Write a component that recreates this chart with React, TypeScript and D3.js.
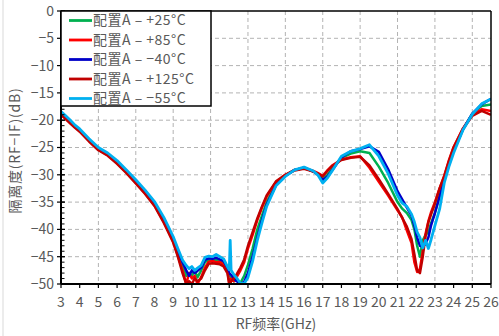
import React from "react";
import * as d3 from "d3";

const freq = [3, 3.25, 3.5, 3.75, 4, 4.5, 5, 5.5, 6, 6.5, 7, 7.5, 8, 8.5, 9, 9.25, 9.5, 9.7, 9.85, 10, 10.15, 10.3, 10.5, 10.7, 10.9, 11.1, 11.3, 11.5, 11.7, 11.9, 12.0, 12.05, 12.1, 12.25, 12.4, 12.6, 12.8, 13, 13.25, 13.5, 13.75, 14, 14.5, 15, 15.5, 16, 16.5, 16.75, 17, 17.25, 17.5, 18, 18.5, 19, 19.5, 20, 20.5, 21, 21.25, 21.5, 21.75, 21.9, 22.05, 22.2, 22.35, 22.5, 22.65, 22.8, 23, 23.25, 23.5, 23.75, 24, 24.5, 25, 25.5, 26];

const p25 = [-18.7, -19.5, -20.3, -21.1, -21.9, -23.6, -25.2, -26.3, -27.7, -29.4, -31.2, -33.1, -35.3, -38.3, -41.9, -44.3,
  -46.5, -48.5, -48.0, -48.5, -47.5, -48.8, -47.5, -46.0, -45.6, -45.7, -45.5, -45.8, -46.1, -47.2, -48.5, -48.6, -48.8, -49.5, -49.2, -49.8, -48.5,
  -46.5, -43.5, -40.0, -37.5, -35.0, -31.7, -30.1, -29.1, -28.7, -29.4, -29.9, -30.8, -30.0, -28.9,
  -26.9, -26.1, -25.7, -26.0, -28.5, -31.5, -35.0, -36.2, -37.0, -38.3, -40.0, -43.0, -45.0, -42.0, -41.0, -40.5, -38.8, -37.0, -33.8, -31.0, -28.0, -25.6, -21.7, -18.8, -17.4, -17.1];

const p85 = [-18.9, -19.7, -20.5, -21.3, -22.0, -23.8, -25.4, -26.4, -27.9, -29.6, -31.5, -33.4, -35.6, -38.6, -42.2, -44.8,
  -47.5, -50.0, -48.0, -49.0, -48.5, -50.0, -48.7, -47.0, -45.9, -45.8, -46.0, -45.9, -46.5, -47.4, -50.0, -49.2, -49.0, -49.5, -48.7, -47.5, -46.0,
  -43.5, -41.0, -38.3, -36.0, -34.0, -31.3, -30.0, -29.1, -28.8, -29.3, -29.7, -30.2, -29.2, -28.3,
  -27.2, -26.8, -26.6, -28.7, -31.3, -33.8, -36.5, -37.8, -40.2, -42.5, -46.0, -47.8, -47.2, -44.0, -40.8, -38.5, -36.8, -35.0, -32.5, -30.2, -27.3, -24.9, -21.5, -19.0, -18.0, -18.3];

const m40 = [-18.6, -19.4, -20.2, -21.0, -21.8, -23.6, -25.2, -26.2, -27.6, -29.3, -31.1, -33.0, -35.1, -38.1, -41.7, -44.0,
  -46.0, -47.5, -48.5, -47.5, -48.0, -47.6, -47.0, -45.6, -45.3, -45.4, -45.2, -45.5, -45.8, -47.0, -48.0, -48.2, -48.3, -49.0, -49.5, -50.0, -49.6,
  -48.0, -45.0, -41.5, -38.3, -35.5, -31.9, -30.2, -29.1, -28.7, -29.4, -30.0, -31.0, -30.3, -29.2,
  -26.8, -25.7, -25.3, -24.8, -25.8, -29.0, -33.0, -34.5, -36.0, -37.5, -39.3, -41.5, -43.0, -43.2, -42.6, -41.5, -39.2, -37.0, -34.0, -31.0, -28.2, -25.6, -21.7, -18.8, -17.1, -16.1];

const p125 = [-19.0, -19.8, -20.6, -21.4, -22.1, -23.9, -25.5, -26.5, -28.0, -29.7, -31.6, -33.5, -35.7, -38.8, -42.4, -45.0,
  -48.0, -50.0, -49.5, -50.0, -49.0, -49.5, -49.0, -47.5, -46.3, -46.2, -46.3, -46.4, -46.8, -48.0, -50.0, -50.0, -49.5, -49.0, -48.2, -47.0, -45.5,
  -43.0, -40.5, -38.0, -35.8, -33.8, -31.2, -30.0, -29.2, -28.9, -29.4, -29.8, -30.3, -29.3, -28.4,
  -27.3, -26.9, -26.7, -28.3, -30.8, -33.5, -36.3, -37.9, -39.5, -41.8, -44.5, -47.5, -48.0, -45.0, -41.2, -38.7, -37.2, -35.3, -32.5, -30.2, -27.5, -25.0, -21.6, -19.2, -18.3, -19.0];

const m55 = [-18.4, -19.2, -20.0, -20.9, -21.6, -23.4, -25.0, -26.0, -27.4, -29.1, -30.9, -32.8, -34.9, -37.8, -41.3, -43.5,
  -45.6, -46.6, -47.2, -46.8, -47.5, -47.1, -46.6, -45.1, -44.9, -45.0, -44.6, -45.0, -45.4, -46.8, -47.4, -42.0, -47.5, -48.3, -48.9, -49.9, -49.9,
  -48.8, -45.8, -42.0, -38.8, -35.8, -32.0, -30.3, -29.1, -28.6, -29.3, -30.1, -31.5, -30.6, -29.3,
  -26.6, -25.7, -25.2, -24.5, -26.6, -29.8, -33.8, -35.2, -35.8, -37.2, -38.6, -40.5, -41.5, -43.4, -42.0, -43.5, -41.8, -39.3, -36.3, -31.5, -28.5, -26.0, -21.8, -18.9, -17.0, -16.1];

const seriesNames = ["配置A – +25°C", "配置A – +85°C", "配置A – −40°C", "配置A – +125°C", "配置A – −55°C"];
const seriesValues = [p25, p85, m40, p125, m55];
const seriesColors = ["#00b050", "#ff0000", "#0000c8", "#c00000", "#00b0f0"];

const xTicks = d3.range(3, 27, 1);
const xGrid = [5, 7, 9, 11, 13, 15, 17, 19, 21, 23, 25];
const yTicks = [0, -5, -10, -15, -20, -25, -30, -35, -40, -45, -50];
const yMinor = d3.range(-50, 1, 1);

const W = 499, H = 336;
const L = 61, R = 491, T = 11, B = 284;
const FONT = "'Noto Sans CJK SC', 'Noto Sans', sans-serif";
const GRAY = "#595959";

export default function App() {
  const x = d3.scaleLinear().domain([3, 26]).range([L, R]);
  const y = d3.scaleLinear().domain([-50, 0]).range([B, T]);
  const line = d3.line<number>().x((_, i) => x(freq[i])).y((d) => y(d));

  return (
    <svg width={W} height={H} style={{ position: "absolute", left: 0, top: 0, background: "#fff" }} fontFamily={FONT}>
      <defs>
        <clipPath id="plot">
          <rect x={L} y={T - 2} width={R - L} height={B - T + 2} />
        </clipPath>
      </defs>
      <line x1={3} x2={3} y1={0} y2={H} stroke="#d9d9d9" strokeWidth={1} />
      {/* grid */}
      {xGrid.map((v) => (
        <line key={"gx" + v} x1={x(v)} x2={x(v)} y1={T} y2={B} stroke="#b3b3b3" strokeWidth={1} strokeDasharray="4,3" />
      ))}
      {yTicks.filter((v) => v !== 0 && v !== -50).map((v) => (
        <line key={"gy" + v} x1={L} x2={R} y1={y(v)} y2={y(v)} stroke="#b3b3b3" strokeWidth={1} strokeDasharray="4,3" />
      ))}
      {/* series */}
      <g clipPath="url(#plot)">
        {seriesValues.map((vals, i) => (
          <path key={i} d={line(vals) || ""} fill="none" stroke={seriesColors[i]} strokeWidth={i === 4 ? 2.8 : 2.5} strokeLinejoin="round" />
        ))}
      </g>
      {/* frame */}
      <line x1={L} x2={R} y1={T} y2={T} stroke="#000" strokeWidth={1.5} />
      <line x1={R} x2={R} y1={T} y2={B} stroke="#000" strokeWidth={1.5} />
      <line x1={L} x2={L} y1={T} y2={B} stroke="#000" strokeWidth={2} />
      <line x1={L} x2={R} y1={B} y2={B} stroke="#000" strokeWidth={2} />
      {/* y ticks */}
      {yMinor.map((v) => (
        <line key={"ym" + v} x1={L} x2={L + 3.5} y1={y(v)} y2={y(v)} stroke="#000" strokeWidth={1} />
      ))}
      {yTicks.map((v) => (
        <g key={"yt" + v}>
          <line x1={L - 4} x2={L + 4} y1={y(v)} y2={y(v)} stroke="#000" strokeWidth={1.2} />
          <text x={L - 7} y={y(v)} dy="0.35em" textAnchor="end" fontSize={14} fill={GRAY}>
            {v < 0 ? "−" + Math.abs(v) : String(v)}
          </text>
        </g>
      ))}
      {/* x ticks */}
      {xTicks.map((v) => (
        <g key={"xt" + v}>
          <line x1={x(v)} x2={x(v)} y1={B} y2={B + 4} stroke="#000" strokeWidth={1.2} />
          <text x={x(v)} y={306.5} textAnchor="middle" fontSize={14} fill={GRAY}>{v}</text>
        </g>
      ))}
      {/* axis titles */}
      <text x={(L + R) / 2} y={329} textAnchor="middle" fontSize={14} fill={GRAY}>RF频率(GHz)</text>
      <text transform={`translate(20,${(T + B) / 2 + 3}) rotate(-90)`} textAnchor="middle" fontSize={14} fill={GRAY} letterSpacing={0.8}>隔离度(RF−IF)(dB)</text>
      {/* legend */}
      <rect x={L} y={T} width={150} height={95} fill="#fff" stroke="#000" strokeWidth={1.5} />
      {seriesNames.map((n, i) => {
        const yy = 20.5 + i * 19.5;
        return (
          <g key={"lg" + i}>
            <line x1={69} x2={92} y1={yy} y2={yy} stroke={seriesColors[i]} strokeWidth={2.8} />
            <text x={93} y={yy} dy="0.35em" fontSize={14} fill={GRAY} letterSpacing={0.5}>{n}</text>
          </g>
        );
      })}
    </svg>
  );
}
